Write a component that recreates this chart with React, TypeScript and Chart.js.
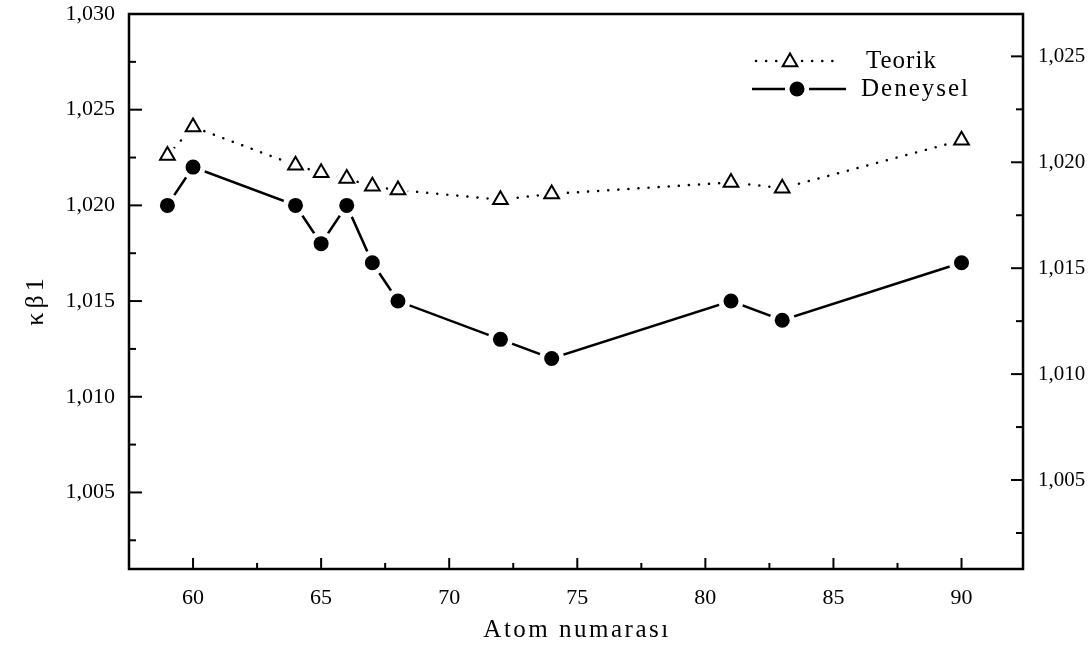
import React, { useEffect, useRef } from 'react';
import { Chart, registerables } from 'chart.js';

Chart.register(...registerables);

// ---- data ----
const atomNumbers = [59, 60, 64, 65, 66, 67, 68, 72, 74, 81, 83, 90];
const teorik = [1.0226, 1.0241, 1.0221, 1.0217, 1.0214, 1.021, 1.0208, 1.0203, 1.0206, 1.0212, 1.0209, 1.0234];
const deneysel = [1.02, 1.022, 1.02, 1.018, 1.02, 1.017, 1.015, 1.013, 1.012, 1.015, 1.014, 1.017];

const seriesLabels = ['Teorik', 'Deneysel'];
const xTitle = 'Atom numarası';
const yTitle = 'κβ1';

const xMajorTicks = [60, 65, 70, 75, 80, 85, 90];
const xMinorTicks = [62.5, 67.5, 72.5, 77.5, 82.5, 87.5];
const yLeftMajorTicks = [1.005, 1.01, 1.015, 1.02, 1.025, 1.03];
const yLeftMinorTicks = [1.0025, 1.0075, 1.0125, 1.0175, 1.0225, 1.0275];
const yRightMajorTicks = [1.005, 1.01, 1.015, 1.02, 1.025];
const yRightMinorTicks = [1.0025, 1.0075, 1.0125, 1.0175, 1.0225];

const SERIF = '"Liberation Serif", "Times New Roman", serif';
const W = 1091;
const H = 648;

const fmt = (v: number) => v.toFixed(3).replace('.', ',');

const TRI_R = 8.5;
const DOT_R = 7.5;

function drawTriangle(ctx: CanvasRenderingContext2D, x: number, y: number, r: number) {
  ctx.beginPath();
  ctx.moveTo(x, y - r);
  ctx.lineTo(x + r * Math.sin((2 * Math.PI) / 3), y - r * Math.cos((2 * Math.PI) / 3));
  ctx.lineTo(x + r * Math.sin((4 * Math.PI) / 3), y - r * Math.cos((4 * Math.PI) / 3));
  ctx.closePath();
  ctx.fillStyle = '#fff';
  ctx.fill();
  ctx.strokeStyle = '#000';
  ctx.lineWidth = 2;
  ctx.stroke();
}

function drawDot(ctx: CanvasRenderingContext2D, x: number, y: number, r: number, color: string) {
  ctx.beginPath();
  ctx.arc(x, y, r, 0, Math.PI * 2);
  ctx.fillStyle = color;
  ctx.fill();
}

const markerPlugin = {
  id: 'markers',
  afterDatasetsDraw(chart: any) {
    const ctx = chart.ctx as CanvasRenderingContext2D;
    ctx.save();
    const tMeta = chart.getDatasetMeta(0);
    const dMeta = chart.getDatasetMeta(1);
    // white halos giving the gap between line and marker
    tMeta.data.forEach((p: any) => drawDot(ctx, p.x, p.y, 10, '#fff'));
    dMeta.data.forEach((p: any) => drawDot(ctx, p.x, p.y, 12.5, '#fff'));
    tMeta.data.forEach((p: any) => drawTriangle(ctx, p.x, p.y, TRI_R));
    dMeta.data.forEach((p: any) => drawDot(ctx, p.x, p.y, DOT_R, '#000'));
    ctx.restore();
  },
};

const framePlugin = {
  id: 'frameTicks',
  afterDraw(chart: any) {
    const { chartArea: a, scales } = chart;
    const ctx = chart.ctx as CanvasRenderingContext2D;
    ctx.save();
    ctx.strokeStyle = '#000';
    ctx.lineWidth = 2.5;
    ctx.strokeRect(a.left, a.top, a.right - a.left, a.bottom - a.top);
    ctx.lineWidth = 2;
    const seg = (x1: number, y1: number, x2: number, y2: number) => {
      ctx.beginPath();
      ctx.moveTo(x1, y1);
      ctx.lineTo(x2, y2);
      ctx.stroke();
    };
    xMajorTicks.forEach((v) => {
      const x = scales.x.getPixelForValue(v);
      seg(x, a.bottom, x, a.bottom - 11);
    });
    xMinorTicks.forEach((v) => {
      const x = scales.x.getPixelForValue(v);
      seg(x, a.bottom, x, a.bottom - 6);
    });
    yLeftMajorTicks.forEach((v) => {
      const y = scales.y.getPixelForValue(v);
      seg(a.left, y, a.left + 13, y);
    });
    yLeftMinorTicks.forEach((v) => {
      const y = scales.y.getPixelForValue(v);
      seg(a.left, y, a.left + 7, y);
    });
    yRightMajorTicks.forEach((v) => {
      const y = scales.y2.getPixelForValue(v);
      seg(a.right, y, a.right - 12, y);
    });
    yRightMinorTicks.forEach((v) => {
      const y = scales.y2.getPixelForValue(v);
      seg(a.right, y, a.right - 7, y);
    });

    // axis titles
    ctx.fillStyle = '#000';
    ctx.textAlign = 'center';
    ctx.textBaseline = 'middle';
    ctx.font = `25px ${SERIF}`;
    (ctx as any).letterSpacing = '2.5px';
    ctx.fillText(xTitle, 577, 630);
    ctx.save();
    ctx.translate(36, 300);
    ctx.rotate(-Math.PI / 2);
    ctx.font = `26px ${SERIF}`;
    (ctx as any).letterSpacing = '4px';
    ctx.fillText(yTitle, 0, 0);
    ctx.restore();

    // legend
    ctx.textAlign = 'left';
    ctx.font = `25px ${SERIF}`;
    // Teorik row
    const ty = 61;
    ctx.strokeStyle = '#000';
    ctx.lineWidth = 2.5;
    ctx.lineCap = 'round';
    ctx.setLineDash([0.1, 10]);
    seg(756, ty, 778, ty);
    seg(802, ty, 842, ty);
    ctx.setLineDash([]);
    ctx.lineCap = 'butt';
    drawTriangle(ctx, 790, ty + 1, TRI_R);
    ctx.fillStyle = '#000';
    (ctx as any).letterSpacing = '1px';
    ctx.fillText(seriesLabels[0], 866, ty);
    // Deneysel row
    const dy = 89;
    ctx.strokeStyle = '#000';
    ctx.lineWidth = 2.5;
    seg(752, dy, 785, dy);
    seg(809, dy, 846, dy);
    drawDot(ctx, 797, dy, DOT_R, '#000');
    ctx.fillStyle = '#000';
    (ctx as any).letterSpacing = '2px';
    ctx.fillText(seriesLabels[1], 861, dy);
    ctx.restore();
  },
};

export default function App() {
  const ref = useRef<HTMLCanvasElement>(null);

  useEffect(() => {
    if (!ref.current) return;
    const pts = (ys: number[]) => atomNumbers.map((x, i) => ({ x, y: ys[i] }));
    const chart = new Chart(ref.current, {
      type: 'line',
      data: {
        datasets: [
          {
            label: seriesLabels[0],
            data: pts(teorik),
            borderColor: '#000',
            borderWidth: 2.5,
            borderDash: [0.1, 10],
            borderCapStyle: 'round',
            pointRadius: 0,
            tension: 0,
            fill: false,
          },
          {
            label: seriesLabels[1],
            data: pts(deneysel),
            borderColor: '#000',
            borderWidth: 2.5,
            pointRadius: 0,
            tension: 0,
            fill: false,
          },
        ],
      },
      options: {
        animation: false,
        responsive: false,
        devicePixelRatio: 1,
        events: [],
        layout: { padding: { top: 14, left: 0, right: 0, bottom: 0 } },
        plugins: { legend: { display: false }, tooltip: { enabled: false } },
        scales: {
          x: {
            type: 'linear',
            position: 'bottom',
            min: 57.5,
            max: 92.4,
            grid: { display: false, drawTicks: false },
            border: { display: false },
            ticks: {
              color: '#000',
              padding: 16,
              font: { family: SERIF, size: 22 },
              callback: (v: any) => String(v),
            },
            afterBuildTicks: (s: any) => {
              s.ticks = xMajorTicks.map((v) => ({ value: v }));
            },
            afterFit: (s: any) => {
              s.height = H - 569;
              s.paddingLeft = 0;
              s.paddingRight = 0;
            },
          },
          y: {
            type: 'linear',
            position: 'left',
            min: 1.001,
            max: 1.03,
            grid: { display: false, drawTicks: false },
            border: { display: false },
            ticks: {
              color: '#000',
              padding: 14,
              font: { family: SERIF, size: 22 },
              callback: (v: any) => fmt(Number(v)),
            },
            afterBuildTicks: (s: any) => {
              s.ticks = yLeftMajorTicks.map((v) => ({ value: v }));
            },
            afterFit: (s: any) => {
              s.width = 129;
              s.paddingTop = 0;
              s.paddingBottom = 0;
            },
          },
          y2: {
            type: 'linear',
            position: 'right',
            min: 1.0008,
            max: 1.027,
            grid: { display: false, drawTicks: false },
            border: { display: false },
            ticks: {
              color: '#000',
              padding: 15,
              font: { family: SERIF, size: 21 },
              callback: (v: any) => fmt(Number(v)),
            },
            afterBuildTicks: (s: any) => {
              s.ticks = yRightMajorTicks.map((v) => ({ value: v }));
            },
            afterFit: (s: any) => {
              s.width = W - 1023;
              s.paddingTop = 0;
              s.paddingBottom = 0;
            },
          },
        },
      },
      plugins: [markerPlugin, framePlugin],
    } as any);
    return () => chart.destroy();
  }, []);

  return (
    <div style={{ position: 'fixed', left: 0, top: 0, width: W, height: H, background: '#fff' }}>
      <canvas ref={ref} width={W} height={H} style={{ display: 'block' }} />
    </div>
  );
}
